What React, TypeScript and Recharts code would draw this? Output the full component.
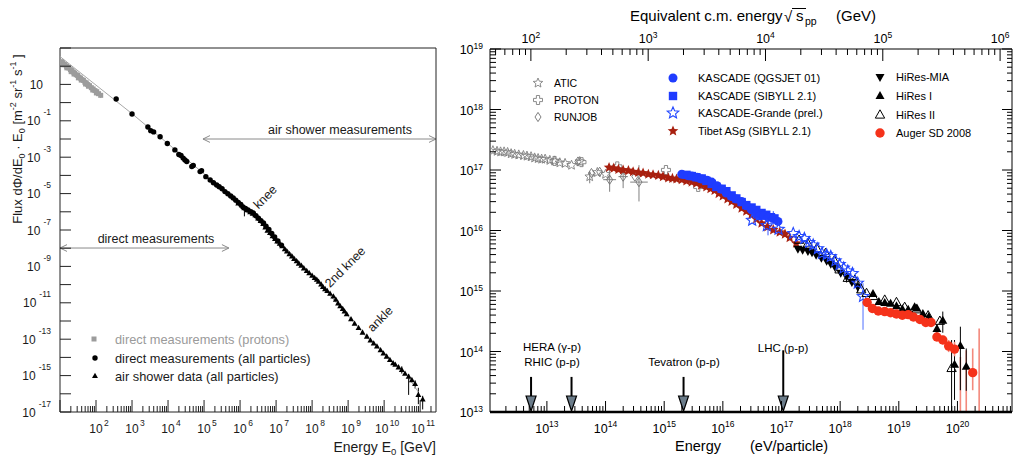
import React from 'react';
import { ScatterChart, Scatter, XAxis, YAxis, ErrorBar, ReferenceLine, ReferenceDot } from 'recharts';

const FONT = '"Liberation Sans", Arial, Helvetica, sans-serif';

// ================= LEFT PANEL: log10(E0 / GeV) vs log10(flux) =================
const leftXDecades = [1, 2, 3, 4, 5, 6, 7, 8, 9, 10, 11];
const leftXLabels = [2, 3, 4, 5, 6, 7, 8, 9, 10, 11];
const leftYDecades = [-17, -16, -15, -14, -13, -12, -11, -10, -9, -8, -7, -6, -5, -4, -3, -2, -1, 0, 1, 2, 3];
const leftYLabels = [-17, -15, -13, -11, -9, -7, -5, -3, -1, 1];

// [logE, logF, errLow, errHigh]
const directProtons: number[][] = [
  [1.04, 2.25], [1.07, 2.19], [1.11, 2.11], [1.14, 2.08], [1.18, 2.0], [1.22, 1.93], [1.25, 1.9], [1.29, 1.81],
  [1.33, 1.76], [1.37, 1.68], [1.41, 1.62], [1.45, 1.53], [1.49, 1.49], [1.53, 1.4], [1.57, 1.35], [1.61, 1.26],
  [1.65, 1.22], [1.69, 1.12], [1.73, 1.08], [1.77, 0.99], [1.82, 0.93], [1.87, 0.82], [1.92, 0.75], [1.97, 0.66],
  [2.02, 0.6], [2.07, 0.49], [2.13, 0.4, 0.15, 0.05],
  [1.09, 2.08], [1.19, 1.91], [1.31, 1.7], [1.39, 1.57], [1.51, 1.36], [1.59, 1.24], [1.71, 1.02], [1.79, 0.9], [1.91, 0.69], [2.01, 0.53],
];
const directAll: number[][] = [
  [2.56, 0.2], [3.0, -0.63], [3.44, -1.34], [3.52, -1.54], [3.6, -1.61], [3.78, -1.88], [3.98, -2.25], [4.19, -2.6],
  [4.3, -2.85], [4.36, -2.91], [4.42, -3.05], [4.47, -3.15], [4.52, -3.24], [4.66, -3.51], [4.7, -3.45], [4.89, -3.79],
  [4.93, -3.74], [5.05, -4.07], [5.17, -4.25], [5.26, -4.4], [5.35, -4.53], [5.42, -4.62], [5.5, -4.73], [5.58, -4.89],
  [5.66, -5.01], [5.74, -5.13], [5.81, -5.24], [5.88, -5.36], [5.95, -5.48], [6.02, -5.6], [6.08, -5.73], [6.15, -5.82],
  [6.22, -5.9], [6.3, -6.0], [6.37, -6.07], [6.44, -6.22], [6.51, -6.35], [6.58, -6.49], [6.65, -6.61], [6.72, -6.79],
  [6.8, -6.97], [6.88, -7.19], [6.96, -7.38], [7.05, -7.6], [7.15, -7.83],
];
const airShower: number[][] = [
  [5.95, -5.55], [6.05, -5.65], [6.12, -5.8, 0.45, 0], [6.2, -5.92], [6.28, -6.02], [6.35, -6.11], [6.42, -6.19], [6.5, -6.37],
  [6.57, -6.51], [6.64, -6.67], [6.7, -6.87], [6.76, -7.04], [6.83, -7.17], [6.9, -7.34], [6.97, -7.49], [7.03, -7.63],
  [7.1, -7.76], [7.17, -7.9], [7.24, -8.06], [7.3, -8.18], [7.37, -8.33], [7.44, -8.46], [7.5, -8.59], [7.57, -8.72],
  [7.63, -8.85], [7.7, -8.97], [7.77, -9.11], [7.85, -9.26], [7.92, -9.38], [8.0, -9.51], [8.07, -9.64], [8.13, -9.74],
  [8.18, -9.84], [8.25, -10.0], [8.3, -10.13], [8.36, -10.25], [8.42, -10.35], [8.5, -10.5], [8.59, -10.66], [8.66, -10.84],
  [8.72, -11.04], [8.78, -11.19], [8.85, -11.34], [8.9, -11.48], [8.96, -11.63], [9.08, -11.91], [9.18, -12.15], [9.29, -12.39],
  [9.4, -12.64], [9.52, -12.86], [9.62, -13.07], [9.71, -13.24], [9.8, -13.4], [9.9, -13.61], [9.98, -13.79], [10.07, -13.96],
  [10.16, -14.15], [10.25, -14.32], [10.31, -14.41], [10.4, -14.55], [10.49, -14.69, 0.2, 0.2], [10.58, -14.9], [10.68, -15.06, 1.0, 0.15],
  [10.77, -15.25], [10.86, -15.46, 0.25, 0.2], [10.95, -16.07, 0.5, 0.4], [11.07, -16.31, 0.55, 0.2],
];
const spectrumLine: number[][] = [
  [1.0, 2.53], [3.0, -0.61], [6.5, -6.39], [8.0, -9.48], [9.5, -12.86], [10.6, -14.9], [10.95, -15.9],
];
const airShowerArrow = { from: 4.97, to: 11.44, level: -2.0 };
const directArrow = { from: 1.0, to: 5.69, level: -7.99 };
const leftNotes = [
  { text: 'knee', x: 6.78, y: -5.35 },
  { text: '2nd knee', x: 9.0, y: -9.2 },
  { text: 'ankle', x: 9.97, y: -12.05 },
];

// ================= RIGHT PANEL: log10(E / eV) vs log10(scaled flux) =================
const rightXDecades = [12, 13, 14, 15, 16, 17, 18, 19, 20];
const rightYDecades = [13, 14, 15, 16, 17, 18, 19];
const sqrtsDecades = [1, 2, 3, 4, 5, 6];
const SQRTS_OFFSET = 8.727; // log10(1e9 / (2 * 0.938))

const atic: number[][] = [
  [12.08, 17.32], [12.15, 17.31], [12.21, 17.3], [12.27, 17.3], [12.33, 17.29], [12.39, 17.27], [12.45, 17.26],
  [12.52, 17.25], [12.6, 17.24], [12.66, 17.23], [12.73, 17.22], [12.79, 17.2], [12.85, 17.19], [12.91, 17.18],
  [12.97, 17.18], [13.05, 17.16], [13.13, 17.15], [13.22, 17.12], [13.31, 17.11], [13.42, 17.08], [13.56, 17.14],
  [13.73, 16.89, 0.11, 0.08], [13.86, 16.96], [14.0, 16.93],
];
const protonExp: number[][] = [
  [13.13, 17.15], [13.59, 17.13], [14.2, 17.06], [15.03, 17.0], [15.58, 16.72],
];
// [logE, logF, errLow, errHigh, xErr]
const runjob: number[][] = [
  [13.53, 17.14], [13.76, 16.95], [13.9, 16.97], [14.07, 16.84, 0.2, 0.16, 0.11], [14.3, 16.89, 0.19, 0.1, 0.08],
  [14.5, 16.89], [14.57, 16.8, 0.32, 0.28, 0.15],
];
const tibet: number[][] = [
  [14.06, 17.04], [14.14, 17.03], [14.22, 17.01], [14.3, 17.0], [14.39, 16.99], [14.47, 16.97], [14.56, 16.96],
  [14.64, 16.95], [14.73, 16.93], [14.81, 16.92], [14.9, 16.91], [14.98, 16.89], [15.07, 16.87], [15.14, 16.86],
  [15.21, 16.85], [15.3, 16.84], [15.38, 16.82], [15.47, 16.8], [15.55, 16.78], [15.63, 16.75], [15.72, 16.72],
  [15.79, 16.69], [15.86, 16.66], [15.93, 16.61], [16.0, 16.57], [16.08, 16.52], [16.15, 16.48], [16.23, 16.43],
  [16.32, 16.37], [16.4, 16.32], [16.49, 16.26], [16.57, 16.19], [16.66, 16.12], [16.76, 16.06], [16.86, 16.01],
  [16.97, 15.97], [17.06, 15.94], [17.14, 15.88], [17.25, 15.79],
];
const kascadeQgsjet: number[][] = [
  [15.3, 16.93], [15.4, 16.91], [15.47, 16.9], [15.56, 16.88], [15.64, 16.85], [15.73, 16.83], [15.81, 16.8],
  [15.9, 16.74], [15.98, 16.68], [16.06, 16.62], [16.15, 16.56], [16.23, 16.52], [16.32, 16.48], [16.4, 16.41],
  [16.49, 16.34], [16.57, 16.28], [16.63, 16.24], [16.7, 16.25], [16.77, 16.22, 0.3, 0.05], [16.86, 16.2, 0.1, 0.12], [16.94, 16.15],
];
const kascadeSibyll: number[][] = [
  [15.38, 16.92], [15.47, 16.9], [15.55, 16.88], [15.64, 16.86], [15.72, 16.82], [15.81, 16.77], [15.89, 16.72],
  [15.98, 16.69], [16.06, 16.65], [16.15, 16.58], [16.23, 16.53], [16.32, 16.47], [16.4, 16.42], [16.49, 16.38],
  [16.57, 16.34], [16.66, 16.29], [16.74, 16.26], [16.82, 16.22], [16.88, 16.2],
];
const kascadeGrande: number[][] = [
  [16.5, 16.17], [16.75, 16.08], [16.95, 16.02], [17.2, 15.95], [17.3, 15.9], [17.39, 15.87], [17.47, 15.8],
  [17.54, 15.76], [17.62, 15.7], [17.69, 15.62], [17.77, 15.6], [17.84, 15.57], [17.92, 15.5], [17.99, 15.44],
  [18.06, 15.38], [18.13, 15.33], [18.21, 15.29], [18.3, 15.13], [18.39, 14.91, 0.55, 0.22],
];
const hiresMia: number[][] = [
  [17.28, 15.7], [17.36, 15.68], [17.45, 15.66], [17.52, 15.64], [17.59, 15.6], [17.68, 15.55], [17.77, 15.5],
  [17.84, 15.45], [17.91, 15.4], [18.01, 15.3], [18.11, 15.24, 0.1, 0.08], [18.2, 15.15], [18.3, 15.07, 0.1, 0.1],
];
const hires2: number[][] = [
  [17.3, 15.84], [17.45, 15.78], [17.6, 15.7], [17.75, 15.62], [17.9, 15.5], [17.99, 15.35], [18.13, 15.21],
  [18.25, 15.18], [18.36, 15.02], [18.45, 14.96], [18.56, 14.91], [18.76, 14.85], [18.96, 14.81], [19.1, 14.73],
  [19.3, 14.69], [19.5, 14.59], [19.7, 14.5], [19.9, 13.72, 0.72, 0.47],
];
const hires1: number[][] = [
  [18.56, 14.95], [18.66, 14.82], [18.76, 14.8], [18.86, 14.79], [18.96, 14.75], [19.06, 14.7], [19.16, 14.69],
  [19.27, 14.73], [19.31, 14.71], [19.41, 14.62], [19.51, 14.57, 0.06, 0.06], [19.65, 14.37, 0.08, 0.08], [19.75, 14.51, 0.2, 0.15],
  [19.95, 13.78, 0.58, 0.41], [20.05, 14.09, 0.73, 0.32], [20.15, 13.75, 0.4, 0.3],
];
const auger: number[][] = [
  [18.46, 14.81], [18.55, 14.71], [18.65, 14.67], [18.76, 14.66], [18.86, 14.64], [18.96, 14.62], [19.06, 14.6],
  [19.16, 14.61], [19.25, 14.57], [19.36, 14.53], [19.46, 14.48], [19.55, 14.48], [19.65, 14.24, 0.06, 0.06],
  [19.75, 14.19, 0.07, 0.07], [19.85, 14.09, 0.1, 0.1], [19.95, 14.04, 0.12, 0.12], [20.26, 13.65, 0.29, 0.4],
];
// [logE, upper end, lower end]
const augerLimits: number[][] = [
  [20.05, 13.91, 13.0], [20.15, 14.02, 13.0], [20.37, 14.38, 13.0],
];
const colliders = [
  { name: 'HERA', logE: 12.73, top: 13.58 },
  { name: 'RHIC', logE: 13.42, top: 13.58 },
  { name: 'Tevatron', logE: 15.33, top: 13.58 },
  { name: 'LHC', logE: 17.03, top: 14.02 },
];

// ================= helpers =================
const pts = (a: number[][]) =>
  a.map(([x, y, lo, hi, xe]) => ({ x, y, e: lo !== undefined ? [lo, hi ?? 0] : undefined, ex: xe }));
const limitPts = (a: number[][]) => a.map(([x, top, bottom]) => ({ x, y: top, e: [top - bottom, 0] }));
const isInt = (v: number) => Math.abs(v - Math.round(v)) < 1e-6;
const logTicks = (decades: number[], lo: number, hi: number) => {
  const out: number[] = [];
  for (const d of decades) for (let k = 1; k < 10; k++) {
    const v = d + Math.log10(k);
    if (v >= lo - 1e-9 && v <= hi + 1e-9) out.push(v);
  }
  return out;
};

const L_XDOM = [1, 11.44];
const L_YDOM = [-17, 3];
const R_XDOM = [12.03, 20.93];
const R_YDOM = [13, 19];

const leftXTicks = logTicks(leftXDecades, L_XDOM[0], L_XDOM[1]);
const rightXTicks = logTicks(rightXDecades, R_XDOM[0], R_XDOM[1]);
const rightYTicks = logTicks(rightYDecades, R_YDOM[0], R_YDOM[1]);
const topTicks = logTicks(sqrtsDecades, -10, 10).map((v) => 2 * v + SQRTS_OFFSET).filter((v) => v >= R_XDOM[0] && v <= R_XDOM[1]);

// ================= marker shapes =================
const starPoints = (cx: number, cy: number, R: number, ratio = 0.45) => {
  let s = '';
  for (let i = 0; i < 10; i++) {
    const r = i % 2 === 0 ? R : R * ratio;
    const a = -Math.PI / 2 + (i * Math.PI) / 5;
    s += `${(cx + r * Math.cos(a)).toFixed(2)},${(cy + r * Math.sin(a)).toFixed(2)} `;
  }
  return s;
};
const triUp = (cx: number, cy: number, s: number) =>
  `${cx},${cy - s} ${cx - s * 0.9},${cy + s * 0.6} ${cx + s * 0.9},${cy + s * 0.6}`;
const triDown = (cx: number, cy: number, s: number) =>
  `${cx},${cy + s} ${cx - s * 0.9},${cy - s * 0.6} ${cx + s * 0.9},${cy - s * 0.6}`;
const crossPoints = (cx: number, cy: number, a: number, w: number) =>
  [[-w, -a], [w, -a], [w, -w], [a, -w], [a, w], [w, w], [w, a], [-w, a], [-w, w], [-a, w], [-a, -w], [-w, -w]]
    .map(([dx, dy]) => `${cx + dx},${cy + dy}`).join(' ');
const diamondPoints = (cx: number, cy: number, w: number, h: number) =>
  `${cx},${cy - h} ${cx + w},${cy} ${cx},${cy + h} ${cx - w},${cy}`;

type Draw = (cx: number, cy: number) => React.ReactElement;
const mk = (draw: Draw) => (p: any) => (p == null || p.cx == null ? <g /> : draw(p.cx, p.cy));

const M = {
  lSquare: (cx: number, cy: number) => <rect x={cx - 2.5} y={cy - 2.5} width={5} height={5} fill="#9c9c9c" />,
  lDot: (cx: number, cy: number) => <circle cx={cx} cy={cy} r={2.7} fill="#000" />,
  lTri: (cx: number, cy: number) => <polygon points={triUp(cx, cy, 3.3)} fill="#000" />,
  atic: (cx: number, cy: number) => <polygon points={starPoints(cx, cy, 5, 0.45)} fill="none" stroke="#808080" strokeWidth={0.9} />,
  proton: (cx: number, cy: number) => <polygon points={crossPoints(cx, cy, 4.5, 1.6)} fill="none" stroke="#808080" strokeWidth={0.9} />,
  runjob: (cx: number, cy: number) => <polygon points={diamondPoints(cx, cy, 3, 4.6)} fill="none" stroke="#707070" strokeWidth={0.9} />,
  tibet: (cx: number, cy: number) => <polygon points={starPoints(cx, cy, 5.6, 0.45)} fill="#a8200f" />,
  kQ: (cx: number, cy: number) => <circle cx={cx} cy={cy} r={4.5} fill="#1f3cff" />,
  kS: (cx: number, cy: number) => <rect x={cx - 4.2} y={cy - 4.2} width={8.4} height={8.4} fill="#1f3cff" />,
  kG: (cx: number, cy: number) => <polygon points={starPoints(cx, cy, 6, 0.45)} fill="none" stroke="#2146ff" strokeWidth={1.1} />,
  mia: (cx: number, cy: number) => <polygon points={triDown(cx, cy, 5)} fill="#000" />,
  h1: (cx: number, cy: number) => <polygon points={triUp(cx, cy, 5)} fill="#000" />,
  h2: (cx: number, cy: number) => <polygon points={triUp(cx, cy, 5.2)} fill="#fff" fillOpacity={0} stroke="#000" strokeWidth={1} />,
  auger: (cx: number, cy: number) => <circle cx={cx} cy={cy} r={4.7} fill="#f5321a" />,
  none: (cx: number, cy: number) => <g />,
};

// ================= tick renderers =================
const LeftXTick = (p: any) => {
  const { x, y, payload } = p;
  const v = payload.value;
  const major = isInt(v);
  const showLabel = major && leftXLabels.includes(Math.round(v));
  return (
    <g>
      <line x1={x} x2={x} y1={y} y2={y - (major ? 12 : 6)} stroke="#222" strokeWidth={1} />
      {showLabel && (
        <text x={x + 3} y={y + 21} textAnchor="middle" fontFamily={FONT} fontSize={12} fill="#1a1a1a">
          10<tspan dx={1.5} dy={-7} fontSize={8.5}>{Math.round(v)}</tspan>
        </text>
      )}
    </g>
  );
};
const LeftYTick = (p: any) => {
  const { x, y, payload } = p;
  const v = Math.round(payload.value);
  const lab = leftYLabels.includes(v);
  return (
    <g>
      <line x1={x} x2={x + 11} y1={y} y2={y} stroke="#222" strokeWidth={1} />
      {lab && v === 1 && (
        <text x={x - 17} y={y + 4.5} textAnchor="end" fontFamily={FONT} fontSize={12} fill="#1a1a1a">10</text>
      )}
      {lab && v !== 1 && (
        <text x={x - 9} y={y + 4.5} textAnchor="end" fontFamily={FONT} fontSize={12} fill="#1a1a1a">
          10<tspan dx={3} dy={-10} fontSize={8.5}>{v}</tspan>
        </text>
      )}
    </g>
  );
};
const RightXTick = (p: any) => {
  const { x, y, payload } = p;
  const v = payload.value;
  const major = isInt(v);
  return (
    <g>
      <line x1={x} x2={x} y1={y} y2={y - (major ? 11 : 6)} stroke="#000" strokeWidth={1} />
      {major && (
        <text x={x} y={y + 21} textAnchor="middle" fontFamily={FONT} fontSize={12.5} fill="#000">
          10<tspan dy={-6} fontSize={8.5}>{Math.round(v)}</tspan>
        </text>
      )}
    </g>
  );
};
const TopTick = (p: any) => {
  const { x, y, payload } = p;
  const r = (payload.value - SQRTS_OFFSET) / 2;
  const major = isInt(r);
  return (
    <g>
      <line x1={x} x2={x} y1={y} y2={y + (major ? 12 : 6)} stroke="#000" strokeWidth={1} />
      {major && (
        <text x={x} y={y - 6} textAnchor="middle" fontFamily={FONT} fontSize={12.5} fill="#000">
          10<tspan dy={-5} fontSize={8.5}>{Math.round(r)}</tspan>
        </text>
      )}
    </g>
  );
};
const RightYTickL = (p: any) => {
  const { x, y, payload } = p;
  const v = payload.value;
  const major = isInt(v);
  return (
    <g>
      <line x1={x} x2={x + (major ? 11 : 6)} y1={y} y2={y} stroke="#000" strokeWidth={1} />
      {major && (
        <text x={x - 7} y={y + 5} textAnchor="end" fontFamily={FONT} fontSize={12.5} fill="#000">
          10<tspan dy={-5} fontSize={8.5}>{Math.round(v)}</tspan>
        </text>
      )}
    </g>
  );
};
const RightYTickR = (p: any) => {
  const { x, y, payload } = p;
  const major = isInt(payload.value);
  return <line x1={x} x2={x - (major ? 10 : 5)} y1={y} y2={y} stroke="#000" strokeWidth={1} />;
};

// ================= annotation shapes =================
const DoubleArrow = (p: any) => {
  const { x1, y1, x2, y2 } = p;
  const h = 7;
  const w = 3.4;
  return (
    <g stroke="#8a8a8a" strokeWidth={1} fill="none">
      <line x1={x1} y1={y1} x2={x2} y2={y2} />
      <polyline points={`${x1 + h},${y1 - w} ${x1},${y1} ${x1 + h},${y1 + w}`} />
      <polyline points={`${x2 - h},${y2 - w} ${x2},${y2} ${x2 - h},${y2 + w}`} />
    </g>
  );
};
const DownArrow = (p: any) => {
  const { x1, y1, y2 } = p;
  const top = Math.min(y1, y2);
  const bot = Math.max(y1, y2);
  return (
    <g>
      <line x1={x1} x2={x1} y1={top} y2={bot - 14} stroke="#000" strokeWidth={2} />
      <polygon points={`${x1 - 5},${bot - 16} ${x1 + 5},${bot - 16} ${x1},${bot - 1}`} fill="#6b7c8a" stroke="#000" strokeWidth={1.2} />
    </g>
  );
};
const noteShape = (text: string) => (p: any) => (
  <text x={p.cx} y={p.cy} textAnchor="middle" fontFamily={FONT} fontSize={12.5} fill="#1a1a1a"
    transform={`rotate(-45 ${p.cx} ${p.cy})`}>{text}</text>
);

// ================= charts =================
function LeftChart() {
  return (
    <ScatterChart width={450} height={459} margin={{ top: 0, right: 0, bottom: 0, left: 0 }}>
      <XAxis xAxisId="b" type="number" dataKey="x" domain={L_XDOM} allowDataOverflow ticks={leftXTicks} interval={0}
        tickSize={0} tickMargin={0} tickLine={false} height={47} axisLine={{ stroke: '#222' }} tick={LeftXTick} />
      <XAxis xAxisId="t" orientation="top" type="number" dataKey="x" domain={L_XDOM} allowDataOverflow height={48}
        tick={false} tickLine={false} axisLine={{ stroke: '#222' }} />
      <YAxis yAxisId="l" type="number" dataKey="y" domain={L_YDOM} allowDataOverflow ticks={leftYDecades} interval={0}
        tickSize={0} tickMargin={0} tickLine={false} width={60} axisLine={{ stroke: '#222' }} tick={LeftYTick} />
      <YAxis yAxisId="r" orientation="right" type="number" dataKey="y" domain={L_YDOM} allowDataOverflow width={14}
        tick={false} tickLine={false} axisLine={{ stroke: '#222' }} />

      {/* binds the frame axes (top / right) */}
      <Scatter xAxisId="t" yAxisId="r" data={pts(spectrumLine)} shape={mk(M.none)} isAnimationActive={false} />

      <Scatter xAxisId="b" yAxisId="l" data={pts(spectrumLine)} line={{ stroke: '#a8a8a8', strokeWidth: 1 }}
        shape={mk(M.none)} isAnimationActive={false} />
      <Scatter xAxisId="b" yAxisId="l" data={pts(directProtons)} shape={mk(M.lSquare)} isAnimationActive={false}>
        <ErrorBar dataKey="e" direction="y" width={0} stroke="#9c9c9c" strokeWidth={1} />
      </Scatter>
      <Scatter xAxisId="b" yAxisId="l" data={pts(directAll)} shape={mk(M.lDot)} isAnimationActive={false} />
      <Scatter xAxisId="b" yAxisId="l" data={pts(airShower)} shape={mk(M.lTri)} isAnimationActive={false}>
        <ErrorBar dataKey="e" direction="y" width={0} stroke="#000" strokeWidth={1} />
      </Scatter>

      <ReferenceLine xAxisId="b" yAxisId="l" ifOverflow="visible"
        segment={[{ x: airShowerArrow.from, y: airShowerArrow.level }, { x: airShowerArrow.to, y: airShowerArrow.level }]}
        shape={DoubleArrow} />
      <ReferenceLine xAxisId="b" yAxisId="l" ifOverflow="visible"
        segment={[{ x: directArrow.from, y: directArrow.level }, { x: directArrow.to, y: directArrow.level }]}
        shape={DoubleArrow} />
      {leftNotes.map((n) => (
        <ReferenceDot key={n.text} xAxisId="b" yAxisId="l" x={n.x} y={n.y} ifOverflow="visible" shape={noteShape(n.text)} />
      ))}
    </ScatterChart>
  );
}

function RightChart() {
  return (
    <ScatterChart width={564} height={459} margin={{ top: 0, right: 0, bottom: 0, left: 0 }}>
      <XAxis xAxisId="b" type="number" dataKey="x" domain={R_XDOM} allowDataOverflow ticks={rightXTicks} interval={0}
        tickSize={0} tickMargin={0} tickLine={false} height={47} axisLine={{ stroke: '#000', strokeWidth: 2.6 }} tick={RightXTick} />
      <XAxis xAxisId="t" orientation="top" type="number" dataKey="x" domain={R_XDOM} allowDataOverflow ticks={topTicks} interval={0}
        tickSize={0} tickMargin={0} tickLine={false} height={49} axisLine={{ stroke: '#000' }} tick={TopTick} />
      <YAxis yAxisId="l" type="number" dataKey="y" domain={R_YDOM} allowDataOverflow ticks={rightYTicks} interval={0}
        tickSize={0} tickMargin={0} tickLine={false} width={40} axisLine={{ stroke: '#000' }} tick={RightYTickL} />
      <YAxis yAxisId="r" orientation="right" type="number" dataKey="y" domain={R_YDOM} allowDataOverflow ticks={rightYTicks} interval={0}
        tickSize={0} tickMargin={0} tickLine={false} width={2} axisLine={{ stroke: '#000' }} tick={RightYTickR} />

      {/* binds the frame axes (top = sqrt(s) scale, right = mirrored ticks) */}
      <Scatter xAxisId="t" yAxisId="r" data={pts(auger)} shape={mk(M.none)} isAnimationActive={false} />

      <Scatter xAxisId="b" yAxisId="l" data={pts(atic)} shape={mk(M.atic)} isAnimationActive={false}>
        <ErrorBar dataKey="e" direction="y" width={0} stroke="#808080" strokeWidth={1} />
      </Scatter>
      <Scatter xAxisId="b" yAxisId="l" data={pts(protonExp)} shape={mk(M.proton)} isAnimationActive={false} />
      <Scatter xAxisId="b" yAxisId="l" data={pts(runjob)} shape={mk(M.runjob)} isAnimationActive={false}>
        <ErrorBar dataKey="e" direction="y" width={0} stroke="#808080" strokeWidth={1} />
        <ErrorBar dataKey="ex" direction="x" width={0} stroke="#808080" strokeWidth={1} />
      </Scatter>
      <Scatter xAxisId="b" yAxisId="l" data={pts(tibet)} shape={mk(M.tibet)} isAnimationActive={false} />
      <Scatter xAxisId="b" yAxisId="l" data={pts(kascadeSibyll)} shape={mk(M.kS)} isAnimationActive={false} />
      <Scatter xAxisId="b" yAxisId="l" data={pts(kascadeQgsjet)} shape={mk(M.kQ)} isAnimationActive={false}>
        <ErrorBar dataKey="e" direction="y" width={0} stroke="#3355ff" strokeWidth={1} />
      </Scatter>
      <Scatter xAxisId="b" yAxisId="l" data={pts(hiresMia)} shape={mk(M.mia)} isAnimationActive={false}>
        <ErrorBar dataKey="e" direction="y" width={0} stroke="#000" strokeWidth={1} />
      </Scatter>
      <Scatter xAxisId="b" yAxisId="l" data={limitPts(augerLimits)} shape={mk(M.none)} isAnimationActive={false}>
        <ErrorBar dataKey="e" direction="y" width={0} stroke="#f3897c" strokeWidth={1.6} />
      </Scatter>
      <Scatter xAxisId="b" yAxisId="l" data={pts(hires1)} shape={mk(M.h1)} isAnimationActive={false}>
        <ErrorBar dataKey="e" direction="y" width={0} stroke="#000" strokeWidth={1} />
      </Scatter>
      <Scatter xAxisId="b" yAxisId="l" data={pts(hires2)} shape={mk(M.h2)} isAnimationActive={false}>
        <ErrorBar dataKey="e" direction="y" width={0} stroke="#000" strokeWidth={1} />
      </Scatter>
      <Scatter xAxisId="b" yAxisId="l" data={pts(kascadeGrande)} shape={mk(M.kG)} isAnimationActive={false}>
        <ErrorBar dataKey="e" direction="y" width={0} stroke="#6b86ff" strokeWidth={1.2} />
      </Scatter>
      <Scatter xAxisId="b" yAxisId="l" data={pts(auger)} shape={mk(M.auger)} isAnimationActive={false}>
        <ErrorBar dataKey="e" direction="y" width={0} stroke="#f3897c" strokeWidth={1.6} />
      </Scatter>

      {colliders.map((c) => (
        <ReferenceLine key={c.name} xAxisId="b" yAxisId="l" ifOverflow="visible"
          segment={[{ x: c.logE, y: c.top }, { x: c.logE, y: R_YDOM[0] }]} shape={DownArrow} />
      ))}
    </ScatterChart>
  );
}

// ================= overlay texts & legends =================
const T = (props: any) => <text fontFamily={FONT} fill="#000" {...props} />;

function Overlay() {
  return (
    <svg width={1014} height={459} style={{ position: 'absolute', left: 0, top: 0, pointerEvents: 'none' }}>
      {/* left axis titles */}
      <T x={22} y={139} fontSize={13} textAnchor="middle" fill="#1a1a1a" transform="rotate(-90 22 139)">
        <tspan>Flux dΦ/dE</tspan><tspan dy={3} fontSize={9}>0</tspan><tspan dy={-3}>{' · E'}</tspan>
        <tspan dy={3} fontSize={9}>0</tspan><tspan dy={-3}>{' [m'}</tspan><tspan dy={-6} fontSize={9}>-2</tspan>
        <tspan dy={6}>{' sr'}</tspan><tspan dy={-6} fontSize={9}>-1</tspan><tspan dy={6}>{' s'}</tspan>
        <tspan dy={-6} fontSize={9}>-1</tspan><tspan dy={6}>{' ]'}</tspan>
      </T>
      <T x={436} y={452} fontSize={14} textAnchor="end" fill="#1a1a1a">
        Energy E<tspan dy={3} fontSize={9.5}>0</tspan><tspan dy={-3}>{' [GeV]'}</tspan>
      </T>
      <T x={340} y={134} fontSize={12.5} textAnchor="middle" fill="#1a1a1a">air shower measurements</T>
      <T x={156} y={243} fontSize={12.5} textAnchor="middle" fill="#1a1a1a">direct measurements</T>

      {/* left legend */}
      {M.lSquare(94, 339)}
      {M.lDot(95, 358)}
      {M.lTri(95, 376)}
      <T x={115} y={343.5} fontSize={12.8} fill="#9a9a9a">direct measurements (protons)</T>
      <T x={115} y={362.5} fontSize={12.8} fill="#1a1a1a">direct measurements (all particles)</T>
      <T x={115} y={380.5} fontSize={12.8} fill="#1a1a1a">air shower data (all particles)</T>

      {/* right titles */}
      <T x={630} y={21} fontSize={15}>Equivalent c.m. energy</T>
      <T x={784} y={22} fontSize={15}>√</T>
      <line x1={792} x2={806} y1={8.5} y2={8.5} stroke="#000" strokeWidth={1} />
      <T x={796} y={21} fontSize={15}>s</T>
      <T x={805} y={25} fontSize={10.5}>pp</T>
      <T x={836} y={21} fontSize={15}>(GeV)</T>
      <T x={675} y={451} fontSize={14.5}>Energy</T>
      <T x={750} y={451} fontSize={14.5}>(eV/particle)</T>

      {/* collider labels */}
      <T x={552} y={351} fontSize={11.5} textAnchor="middle">HERA (γ-p)</T>
      <T x={552} y={366} fontSize={11.5} textAnchor="middle">RHIC (p-p)</T>
      <T x={684} y={366} fontSize={11.5} textAnchor="middle">Tevatron (p-p)</T>
      <T x={783} y={352} fontSize={11.5} textAnchor="middle">LHC (p-p)</T>

      {/* right legend */}
      {M.atic(538, 83)}
      {M.proton(538, 100)}
      {M.runjob(538, 117)}
      <T x={554} y={87} fontSize={10.5}>ATIC</T>
      <T x={554} y={104} fontSize={10.5}>PROTON</T>
      <T x={554} y={121} fontSize={10.5}>RUNJOB</T>

      {M.kQ(673, 78)}
      {M.kS(673, 96)}
      {M.kG(673, 113)}
      {M.tibet(673, 131)}
      <T x={698} y={82} fontSize={11}>KASCADE (QGSJET 01)</T>
      <T x={698} y={100} fontSize={11}>KASCADE (SIBYLL 2.1)</T>
      <T x={698} y={117} fontSize={11}>KASCADE-Grande (prel.)</T>
      <T x={698} y={135} fontSize={11}>Tibet ASg (SIBYLL 2.1)</T>

      {M.mia(880, 77)}
      {M.h1(880, 96)}
      {M.h2(880, 115)}
      {M.auger(880, 133)}
      <T x={896} y={81} fontSize={11}>HiRes-MIA</T>
      <T x={896} y={100} fontSize={11}>HiRes I</T>
      <T x={896} y={119} fontSize={11}>HiRes II</T>
      <T x={896} y={137} fontSize={11}>Auger SD 2008</T>
    </svg>
  );
}

export default function App() {
  return (
    <div style={{ position: 'absolute', left: 0, top: 0, width: 1014, height: 459, background: '#fff', overflow: 'hidden' }}>
      <div style={{ position: 'absolute', left: 0, top: 0 }}>
        <LeftChart />
      </div>
      <div style={{ position: 'absolute', left: 450, top: 0 }}>
        <RightChart />
      </div>
      <Overlay />
    </div>
  );
}
